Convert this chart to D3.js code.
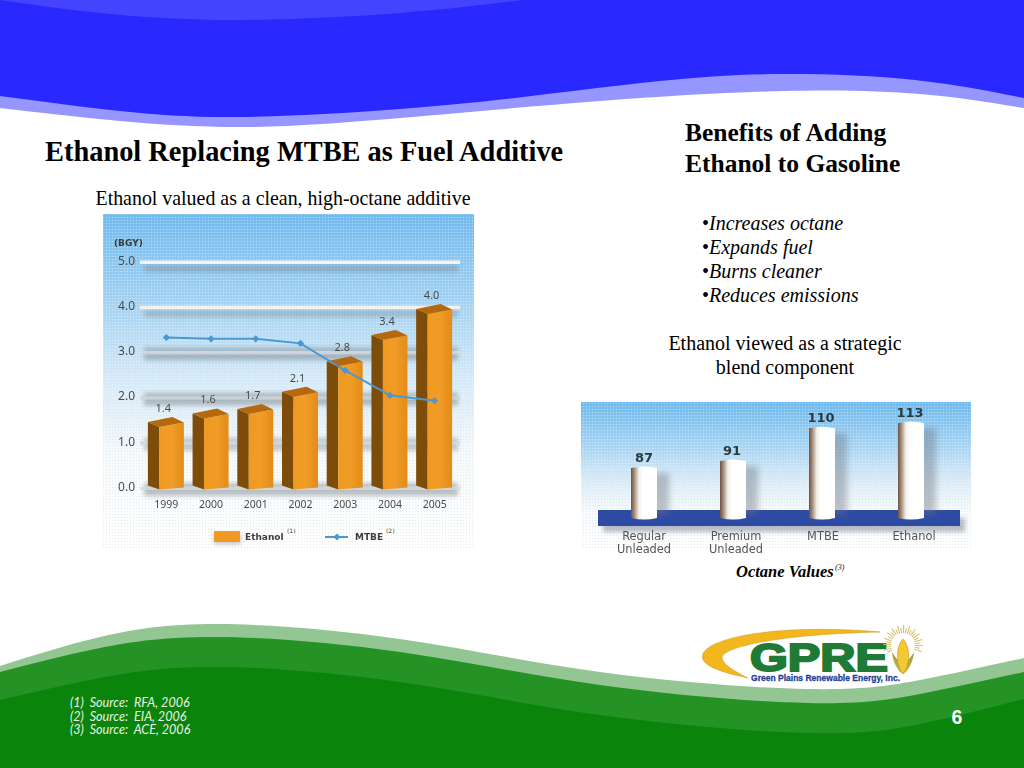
<!DOCTYPE html>
<html><head><meta charset="utf-8">
<script src="https://cdn.jsdelivr.net/npm/d3@7"></script>
<style>
html,body{margin:0;padding:0;background:#fff;overflow:hidden}
svg{display:block}
</style></head><body>
<svg id="c" width="1024" height="768" viewBox="0 0 1024 768"></svg>
<script>
// ---- chart data
const years = ["1999","2000","2001","2002","2003","2004","2005"];
const ethanol = [1.4,1.6,1.7,2.1,2.8,3.4,4.0];
const mtbe = [3.33,3.3,3.3,3.2,2.6,2.05,1.93];
const yTicks = [0,1,2,3,4,5];
const octaneNames = [["Regular","Unleaded"],["Premium","Unleaded"],["MTBE"],["Ethanol"]];
const octaneValues = [87,91,110,113];
const bullets = ["Increases octane","Expands fuel","Burns cleaner","Reduces emissions"];
const sources = ["(1)  Source:  RFA, 2006","(2)  Source:  EIA, 2006","(3)  Source:  ACE, 2006"];

const svg = d3.select("#c");
const defs = svg.append("defs");
const SERIF = "'Liberation Serif','Times New Roman',serif";
const SANS = "'Noto Sans','DejaVu Sans',sans-serif";
const DEJA = "'DejaVu Sans',sans-serif";

function blur(id,s){defs.append("filter").attr("id",id).attr("x","-30%").attr("y","-80%").attr("width","160%").attr("height","260%")
  .append("feGaussianBlur").attr("stdDeviation",s);}
blur("b3",3);blur("b2",2.2);blur("b05",0.45);blur("b03",0.35);
function grad(id,stops,h){const g=defs.append("linearGradient").attr("id",id);
  if(h){g.attr("x1",0).attr("x2",1).attr("y1",0).attr("y2",0);}else{g.attr("x1",0).attr("x2",0).attr("y1",0).attr("y2",1);}
  stops.forEach(s=>g.append("stop").attr("offset",s[0]).attr("stop-color",s[1]));}
grad("sky1",[[0,"#6fb9ee"],[0.25,"#9fd0f2"],[0.5,"#d4e9f7"],[0.72,"#f6fafc"],[1,"#ffffff"]]);
grad("sky2",[[0,"#6db8ee"],[0.3,"#a6d3f2"],[0.55,"#dcedf8"],[0.75,"#f7fbfd"],[1,"#ffffff"]]);
grad("front",[[0,"#ee9a22"],[0.5,"#f09c26"],[1,"#e38c18"]],true);
grad("cyl",[[0,"#6f5140"],[0.12,"#a08a78"],[0.3,"#f4efe8"],[0.45,"#ffffff"],[1,"#ffffff"]],true);
grad("husk",[[0,"#9c9a4c"],[1,"#c9b650"]]);
const pat=defs.append("pattern").attr("id","dots").attr("width",3).attr("height",3).attr("patternUnits","userSpaceOnUse");
pat.append("circle").attr("cx",1.5).attr("cy",1.5).attr("r",0.8).attr("fill","#fff").attr("opacity",0.4);
const pat2=defs.append("pattern").attr("id","gdots").attr("width",3).attr("height",3).attr("patternUnits","userSpaceOnUse");
pat2.append("circle").attr("cx",1.5).attr("cy",1.5).attr("r",0.6).attr("fill","#9aa6ad").attr("opacity",0.28);

// ---- slide background
const curve = d3.line().curve(d3.curveNatural);
function band(top,bottom,fill){
  const a=curve(top), b=curve(bottom.slice().reverse());
  svg.append("path").attr("d",a+"L"+b.slice(1)+"Z").attr("fill",fill);
}
const blueLow=[[0,108],[120,121],[248,127],[400,118],[600,101],[784,91],[920,94],[1024,108]];
const blueMain=[[0,96],[120,111],[242,117],[400,109],[523,97],[660,81],[784,74],[915,80],[1024,98]];
svg.append("rect").attr("width",1024).attr("height",60).attr("fill","#2828ff");
band([[0,0],[1024,0]],blueLow,"#9696ff");
band([[0,0],[1024,0]],blueMain,"#2828ff");
band([[0,0],[523,0]],[[0,0],[110,14],[242,20],[400,13],[523,0]],"#4444ff");

const gLight=[[0,666],[100,637],[217,624],[400,639],[600,672],[807,689],[920,680],[1024,658]];
const gMid=[[0,672],[100,648],[217,637],[400,652],[600,685],[807,703],[920,694],[1024,672]];
const gDark=[[0,700],[100,678],[217,667],[400,682],[600,715],[807,733],[920,724],[1024,699]];
const bottom=[[0,768],[1024,768]];
band(gLight,bottom,"#94c694");
band(gMid,bottom,"#249224");
band(gDark,bottom,"#0a840a");

// ---- left chart
const L=svg.append("g");
L.append("rect").attr("x",103).attr("y",214).attr("width",371).attr("height",330).attr("fill","url(#sky1)");
L.append("rect").attr("x",103).attr("y",214).attr("width",371).attr("height",330).attr("fill","url(#dots)");
L.append("rect").attr("x",103).attr("y",400).attr("width",371).attr("height",150).attr("fill","url(#gdots)");

const y=d3.scaleLinear().domain([0,5]).range([488,262]);
const yBar=d3.scaleLinear().domain([0,4]).range([478,304]); // tops of the 3-D bars sit in their own perspective
const x=d3.scaleBand().domain(years).range([144,457]).paddingInner(0).paddingOuter(0);
const cx=d=>x(d)+x.bandwidth()/2;

const gridOp={0:.5,1:.42,2:.5,3:.5,4:.4,5:.45};
const gridFill={0:"#d8dadb",1:"#d6d9db",2:"#d0d6da",3:"#d8dde0",4:"#f2f2ef",5:"#f4f3ef"};
const gridG=L.append("g");
yTicks.forEach(t=>{
  gridG.append("rect").attr("x",144).attr("y",y(t)+(t>3?3:-5)).attr("width",314).attr("height",t>3?7:13)
    .attr("fill","#7d8890").attr("opacity",gridOp[t]).attr("filter","url(#b2)");
  gridG.append("rect").attr("x",140).attr("y",y(t)-1.5).attr("width",320).attr("height",3.5)
    .attr("fill",gridFill[t]).attr("opacity",t>3?1:.8).attr("filter","url(#b05)");
});

const yAxis=d3.axisLeft(y).tickValues(yTicks).tickFormat(d3.format(".1f")).tickSize(0).tickPadding(0);
const yg=L.append("g").attr("transform","translate(135,-1.5)").call(yAxis);
yg.select(".domain").remove();
yg.selectAll("text").attr("font-family",SANS).attr("font-size",12).attr("fill","#4a4a4a").attr("filter","url(#b03)");
const xAxis=d3.axisBottom(x).tickSize(0).tickPadding(0);
const xg=L.append("g").attr("transform","translate(0,501)").call(xAxis);
xg.select(".domain").remove();
xg.selectAll("text").attr("font-family",SANS).attr("font-size",10.5).attr("fill","#4a4a4a").attr("filter","url(#b03)");

L.append("text").text("(BGY)").attr("x",114).attr("y",246).attr("font-family",DEJA).attr("font-weight","bold")
  .attr("font-size",9).attr("fill","#3b3b3b").attr("filter","url(#b03)");

const poly=p=>"M"+p.map(q=>q.join(",")).join("L")+"Z";
const bars=L.append("g").selectAll("g").data(years).join("g");
const base=y(0);
bars.each(function(d,i){
  const g=d3.select(this), c=cx(d), P=yBar(ethanol[i]);
  const sl=c-18.5, fl=c-7, fr=c+17.5;
  g.append("path").attr("d",poly([[sl,P+5],[fl,P+10],[fl,base+1.5],[sl,base-2.5]])).attr("fill","#7d4c08");
  g.append("path").attr("d",poly([[fl,P+10],[fr,P+5.5],[fr,base-0.5],[fl,base+1.5]])).attr("fill","url(#front)");
  g.append("path").attr("d",poly([[sl,P+5],[c+6,P],[fr,P+5.5],[fl,P+10]])).attr("fill","#b5680d");
  g.append("text").text(d3.format(".1f")(ethanol[i])).attr("x",c-3).attr("y",P-5).attr("text-anchor","middle")
    .attr("font-family",SANS).attr("font-size",11).attr("fill","#4a4a4a").attr("filter","url(#b03)");
});

const lineG=d3.line().x((d,i)=>cx(years[i])).y(d=>y(d));
L.append("path").attr("d",lineG(mtbe)).attr("fill","none").attr("stroke","#4b97d2").attr("stroke-width",2);
L.append("g").selectAll("path").data(mtbe).join("path")
  .attr("d",d3.symbol(d3.symbolSquare,26))
  .attr("transform",(d,i)=>`translate(${cx(years[i])},${y(d)}) rotate(45)`).attr("fill","#4b97d2");

// legend
L.append("rect").attr("x",214).attr("y",534).attr("width",27).attr("height",10).attr("fill","#8b8b8b").attr("opacity",.5).attr("filter","url(#b2)");
L.append("rect").attr("x",214).attr("y",531).attr("width",26).attr("height",11).attr("fill","#f09a24");
L.append("line").attr("x1",325).attr("x2",348).attr("y1",537).attr("y2",537).attr("stroke","#4b97d2").attr("stroke-width",2);
L.append("path").attr("d",d3.symbol(d3.symbolSquare,24)).attr("transform","translate(337,537) rotate(45)").attr("fill","#4b97d2");
function legendLabel(px,name,sup,supx){
  L.append("text").text(name).attr("x",px).attr("y",540).attr("font-family",DEJA).attr("font-weight","bold").attr("font-size",9).attr("fill","#3f3f3f").attr("filter","url(#b03)");
  L.append("text").text(sup).attr("x",supx).attr("y",533).attr("font-family",DEJA).attr("font-size",6).attr("fill","#3f3f3f");
}
legendLabel(245,"Ethanol","(1)",287);
legendLabel(355,"MTBE","(2)",386);

// ---- octane chart
const R=svg.append("g");
R.append("rect").attr("x",581).attr("y",402).attr("width",390).attr("height",146).attr("fill","url(#sky2)");
R.append("rect").attr("x",581).attr("y",402).attr("width",390).attr("height",146).attr("fill","url(#dots)");
R.append("rect").attr("x",581).attr("y",470).attr("width",390).attr("height",80).attr("fill","url(#gdots)");
R.append("rect").attr("x",603).attr("y",518).attr("width",362).attr("height",14).attr("fill","#8a93a0").attr("opacity",.6).attr("filter","url(#b2)");
R.append("rect").attr("x",598).attr("y",510).attr("width",362).attr("height",16).attr("fill","#2d4aa5");
const ox=d3.scalePoint().domain(octaneNames.map(d=>d.join(" "))).range([644,911]);
const oy=d3.scaleLinear().domain([87,113]).range([467,422]);
const oBase=oy(57);
const labelShift=[0,3,1,3];
octaneNames.forEach((n,i)=>{
  const c=ox(n.join(" ")), top=oy(octaneValues[i]), w=26;
  R.append("rect").attr("x",c+3).attr("y",top+6).attr("width",w-4).attr("height",oBase-top-10)
    .attr("fill","#6d7580").attr("opacity",.42).attr("filter","url(#b3)");
  R.append("path").attr("d",`M${c-w/2},${top+1}Q${c},${top-2} ${c+w/2},${top+1}L${c+w/2},${oBase-1}Q${c},${oBase+2} ${c-w/2},${oBase-1}Z`)
    .attr("fill","url(#cyl)");
  R.append("text").text(octaneValues[i]).attr("x",c-(i?1:0)).attr("y",top-5).attr("text-anchor","middle")
    .attr("font-family",DEJA).attr("font-weight","bold").attr("font-size",13).attr("fill","#2b3a3f").attr("filter","url(#b03)");
  n.forEach((t,j)=>R.append("text").text(t).attr("x",c+labelShift[i]).attr("y",540+j*13.4).attr("text-anchor","middle")
    .attr("font-family",DEJA).attr("font-size",11.4).attr("fill","#555").attr("filter","url(#b03)"));
});

// ---- slide text
function T(s,px,py,size,opt={}){
  return svg.append("text").text(s).attr("x",px).attr("y",py).attr("font-family",opt.font||SERIF).attr("font-size",size)
    .attr("font-weight",opt.bold?"bold":"normal").attr("font-style",opt.italic?"italic":"normal")
    .attr("text-anchor",opt.anchor||"start").attr("fill",opt.fill||"#000").style("white-space","pre");
}
T("Ethanol Replacing MTBE as Fuel Additive",45,161,28.4,{bold:true});
T("Ethanol valued as a clean, high-octane additive",283,204.5,19.9,{anchor:"middle"});
T("Benefits of Adding",685,141,25.5,{bold:true});
T("Ethanol to Gasoline",685,172,25.5,{bold:true});
bullets.forEach((b,i)=>{
  T("•",702,229.5+i*24,20);
  T(b,709,229.5+i*24,20,{italic:true});
});
T("Ethanol viewed as a strategic",785,349.5,20,{anchor:"middle"});
T("blend component",785,373.5,20,{anchor:"middle"});
T("Octane Values",736,577,16.5,{bold:true,italic:true});
T("(3)",835,570,8,{italic:true});
sources.forEach((s,i)=>T(s,70,707+i*13.7,12.6,{font:"Lato,'Open Sans',sans-serif",italic:true,fill:"#e8f3e8"}));
T("6",957,724,19.5,{font:"'Liberation Sans',Arial,sans-serif",bold:true,anchor:"middle",fill:"#fff"});

// ---- logo
const logo=svg.append("g");
logo.append("path").attr("d","M880,632C815,626 745,630 715,644C698,652 698,662 716,669C728,674 740,676 748,678C734,671 722,664 722,657C726,645 790,634 880,632Z").attr("fill","#f2b71f").attr("stroke","#c9981a").attr("stroke-width",.5);
logo.append("text").text("GPRE").attr("x",750).attr("y",671).attr("font-family","'Liberation Sans',Arial,sans-serif").attr("font-weight","bold").attr("font-size",38)
  .attr("fill","#1f7a35").attr("stroke","#1f7a35").attr("stroke-width",2).attr("textLength",138).attr("lengthAdjust","spacingAndGlyphs");
logo.append("text").text("Green Plains Renewable Energy, Inc.").attr("x",751).attr("y",681).attr("font-family","'Liberation Sans',Arial,sans-serif").attr("font-weight","bold").attr("font-size",9.5)
  .attr("fill","#1f3f96").attr("stroke","#1f3f96").attr("stroke-width",.3).attr("textLength",149).attr("lengthAdjust","spacingAndGlyphs");
const rays=d3.range(-205,25,9);
const cornC=[903,645];
logo.append("g").selectAll("line").data(rays).join("line")
  .attr("x1",d=>cornC[0]+12*Math.cos(d*Math.PI/180)).attr("y1",d=>cornC[1]+12*Math.sin(d*Math.PI/180))
  .attr("x2",(d,i)=>cornC[0]+(i%2?20:17)*Math.cos(d*Math.PI/180)).attr("y2",(d,i)=>cornC[1]+(i%2?20:17)*Math.sin(d*Math.PI/180))
  .attr("stroke","#d4c070").attr("stroke-width",1.1);
logo.append("path").attr("d","M892,652C893,664 899,672 903,674C907,672 913,664 914,652C911,657 908,661 903,664C898,661 895,657 892,652Z").attr("fill","url(#husk)");
logo.append("path").attr("d","M903,639C910,646 911,663 903,674C895,663 896,646 903,639Z").attr("fill","#f4c832").attr("stroke","#c9981a").attr("stroke-width",.6);
</script>
</body></html>
